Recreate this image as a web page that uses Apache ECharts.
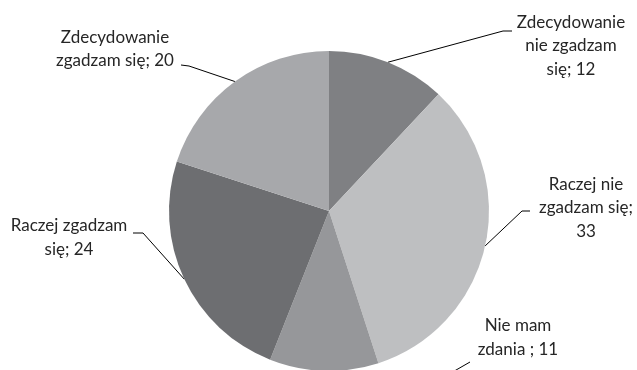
<!DOCTYPE html>
<html>
<head>
<meta charset="utf-8">
<script src="https://cdn.jsdelivr.net/npm/echarts@6/dist/echarts.min.js"></script>
<style>
  html, body { margin: 0; padding: 0; background: #fff; }
  #chart { width: 637px; height: 370px; }
</style>
</head>
<body>
<div id="chart"></div>
<script>
// Survey answers, in clockwise order from 12 o'clock
const categories = [
  'Zdecydowanie\nnie zgadzam\nsię',
  'Raczej nie\nzgadzam się;',
  'Nie mam\nzdania ',
  'Raczej zgadzam\nsię',
  'Zdecydowanie\nzgadzam się'
];
const values = [12, 33, 11, 24, 20];
const colors = ['#7f8083', '#bebfc1', '#96979a', '#6d6e71', '#a7a8ab'];

// Label text separator: category; value (the "Raczej nie" label wraps before the value)
const separators = ['; ', '\n', '; ', '; ', '; '];

// Where each label block sits and where its leader line bends and ends
const labelPlacement = [
  { x: 571, y: 46,    elbow: [503, 31],  end: [512, 31] },
  { x: 586, y: 208,   elbow: [522, 211], end: [530, 211] },
  { x: 518, y: 337.5, elbow: [430, 385], end: [470, 362] },
  { x: 69,  y: 237.5, elbow: [143, 233], end: [133, 233] },
  { x: 115, y: 49,    elbow: [189, 66],  end: [181, 65] }
];

const chart = echarts.init(document.getElementById('chart'), null, { renderer: 'canvas' });

chart.setOption({
  backgroundColor: '#ffffff',
  animation: false,
  series: [{
    type: 'pie',
    center: [329, 211],
    radius: 160,
    startAngle: 90,
    clockwise: true,
    avoidLabelOverlap: false,
    data: categories.map((name, i) => ({
      name: name,
      value: values[i],
      itemStyle: { color: colors[i] }
    })),
    itemStyle: { borderWidth: 0 },
    emphasis: { disabled: true },
    label: {
      show: true,
      position: 'outside',
      formatter: p => p.name + separators[p.dataIndex] + p.value,
      fontFamily: 'Lato',
      fontSize: 17,
      lineHeight: 23.5,
      color: '#262626',
      align: 'center'
    },
    labelLine: {
      show: true,
      smooth: false,
      lineStyle: { color: '#000000', width: 1 }
    },
    labelLayout: function (params) {
      const place = labelPlacement[params.dataIndex];
      const start = params.labelLinePoints ? params.labelLinePoints[0] : place.elbow;
      return {
        x: place.x,
        y: place.y,
        align: 'center',
        verticalAlign: 'middle',
        labelLinePoints: [start, place.elbow, place.end]
      };
    }
  }]
});
</script>
</body>
</html>
